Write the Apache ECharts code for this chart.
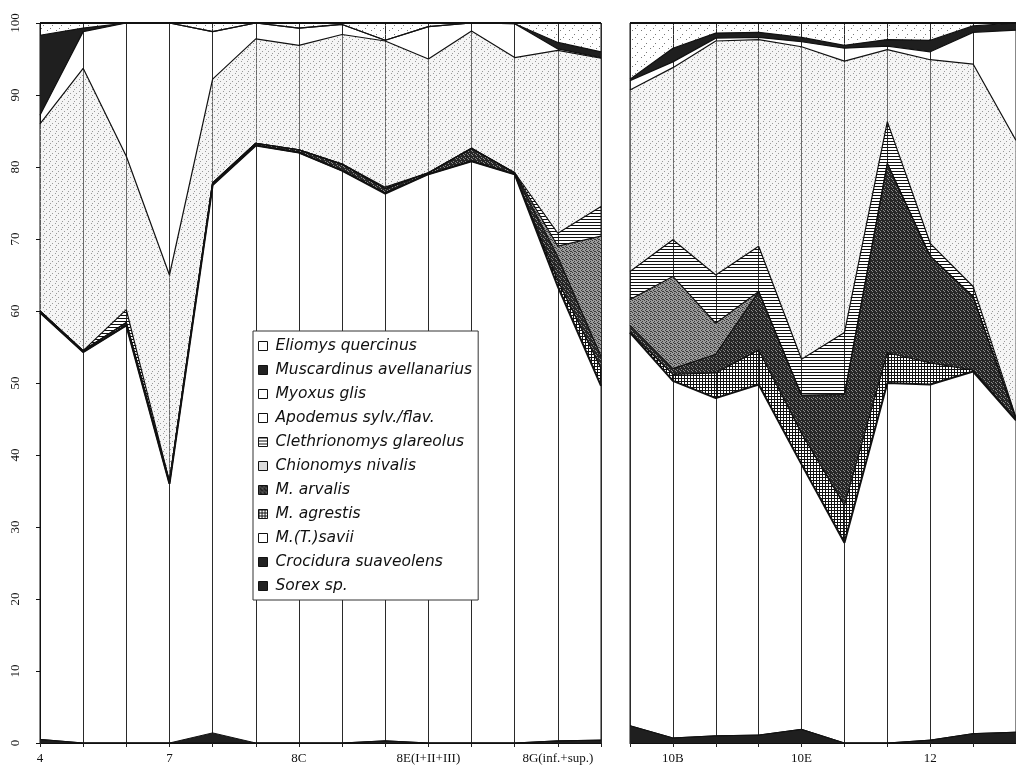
<!DOCTYPE html>
<html><head><meta charset="utf-8">
<script src="https://cdn.jsdelivr.net/npm/echarts@6/dist/echarts.min.js"></script>
<style>html,body{margin:0;padding:0;background:#fff}#c{width:1016px;height:768px}</style>
</head><body><div id="c"></div>
<script>
// ---------- data ----------
const leftCategories = ['4','5','6','7','8A','8B','8C','8D1','8D2','8E(I+II+III)','8F1','8F2','8G(inf.+sup.)','9'];
const rightCategories = ['10A','10B','10C','10D','10E','11A','11B','12','13','14'];
const yTicks = [0,10,20,30,40,50,60,70,80,90,100];

// left panel (percent per species, bottom -> top of stack)
const sorexL        = [0.5, 0, 0, 0, 0, 0, 0, 0, 0.3, 0, 0, 0, 0.3, 0.4];
const crociduraL    = [0, 0, 0, 0, 1.4, 0, 0, 0, 0, 0, 0, 0, 0, 0];
const saviiL        = [59.3, 54.3, 58.0, 36.0, 76.1, 83.0, 82.0, 79.5, 76.0, 79.0, 80.8, 79.0, 63.1, 49.2];
const agrestisL     = [0, 0, 0, 0, 0, 0, 0, 0, 0.1, 0, 0, 0, 0.8, 2.4];
const arvalisL      = [0.2, 0.2, 0.4, 0.3, 0.3, 0.3, 0.4, 0.9, 0.6, 0.2, 1.8, 0.2, 3.3, 1.7];
const chionomysL    = [0, 0, 0, 0, 0, 0, 0, 0, 0, 0, 0, 0, 1.5, 16.7];
const clethrionomysL= [0, 0, 1.8, 0, 0, 0, 0, 0, 0.2, 0, 0, 0, 1.8, 4.1];
const apodemusL     = [26.0, 39.2, 21.3, 28.7, 14.4, 14.5, 14.5, 18.0, 20.3, 15.8, 16.3, 16.0, 25.4, 20.6];
const myoxusL       = [1.2, 5.1, 18.5, 35.0, 6.6, 2.2, 2.4, 1.4, 0.1, 4.5, 1.1, 4.7, 0.2, 0.1];
const muscardinusL  = [11.1, 0.5, 0, 0, 0, 0, 0, 0, 0, 0, 0, 0, 0.9, 0.8];
const eliomysL      = [1.7, 0.7, 0, 0, 1.2, 0, 0.7, 0.2, 2.4, 0.5, 0, 0.1, 2.7, 4.0];

// right panel
const sorexR        = [2.4, 0.7, 1.0, 1.1, 1.9, 0, 0, 0.4, 1.3, 1.5];
const crociduraR    = [0, 0, 0, 0, 0, 0, 0, 0, 0, 0];
const saviiR        = [54.6, 49.6, 46.9, 48.7, 36.8, 27.8, 50.0, 49.4, 50.3, 43.3];
const agrestisR     = [0, 0.9, 3.5, 4.8, 4.3, 5.2, 4.2, 3.0, 0.2, 0.1];
const arvalisR      = [1.0, 0.8, 2.6, 8.1, 5.3, 15.4, 26.3, 14.8, 10.2, 0.1];
const chionomysR    = [3.6, 12.8, 4.3, 0, 0, 0, 0, 0, 0, 0];
const clethrionomysR= [3.9, 5.1, 6.7, 6.3, 5.0, 8.6, 5.8, 1.8, 1.4, 0.2];
const apodemusR     = [25.2, 23.9, 32.5, 28.7, 43.4, 37.7, 10.0, 25.5, 30.9, 38.5];
const myoxusR       = [1.3, 0.8, 0.4, 0.3, 0.7, 1.8, 0.5, 1.1, 4.4, 15.3];
const muscardinusR  = [0.2, 1.9, 0.7, 0.7, 0.6, 0.4, 0.9, 1.6, 0.9, 1.0];
const eliomysR      = [7.8, 3.5, 1.4, 1.3, 2.0, 3.1, 2.3, 2.4, 0.4, 0];

// legend order (top -> bottom) and stacking order (bottom -> top)
const legendNames = ['Eliomys quercinus','Muscardinus avellanarius','Myoxus glis','Apodemus sylv./flav.','Clethrionomys glareolus','Chionomys nivalis','M. arvalis','M. agrestis','M.(T.)savii','Crocidura suaveolens','Sorex sp.'];
const stackOrder = [
  ['Sorex sp.', sorexL, sorexR],
  ['Crocidura suaveolens', crociduraL, crociduraR],
  ['M.(T.)savii', saviiL, saviiR],
  ['M. agrestis', agrestisL, agrestisR],
  ['M. arvalis', arvalisL, arvalisR],
  ['Chionomys nivalis', chionomysL, chionomysR],
  ['Clethrionomys glareolus', clethrionomysL, clethrionomysR],
  ['Apodemus sylv./flav.', apodemusL, apodemusR],
  ['Myoxus glis', myoxusL, myoxusR],
  ['Muscardinus avellanarius', muscardinusL, muscardinusR],
  ['Eliomys quercinus', eliomysL, eliomysR]
];

// ---------- styles ----------
function pat(w, h, bg, fg, pts) {
  const c = document.createElement('canvas'); c.width = w; c.height = h;
  const g = c.getContext('2d');
  if (bg) { g.fillStyle = bg; g.fillRect(0, 0, w, h); }
  g.fillStyle = fg; pts.forEach(p => g.fillRect(p[0], p[1], p[2] || 1, p[3] || 1));
  return { image: c, repeat: 'repeat' };
}
const fills = {
  clear: 'rgba(255,255,255,0)',
  dark: '#1f1f1f',
  hlines: pat(4, 3, null, '#111111', [[0, 0, 4, 1]]),
  grid: pat(3, 3, null, '#111111', [[0, 0, 3, 1], [0, 0, 1, 3]]),
  darkStipple: pat(4, 4, '#262626', '#8a8a8a', [[1, 1], [3, 2], [0, 3]]),
  medStipple: pat(4, 4, '#9a9a9a', '#3a3a3a', [[0, 0], [2, 1], [1, 2], [3, 3], [2, 3]]),
  lightStipple: pat(6, 6, 'rgba(225,225,225,0.35)', '#9a9a9a', [[1, 1], [4, 3], [2, 5]]),
  speckle: pat(9, 9, null, '#7a7a7a', [[2, 3], [7, 7], [5, 1]])
};
const iconSwatch = {
  hlines: pat(4, 3, '#ffffff', '#111111', [[0, 0, 4, 1]]),
  grid: pat(3, 3, '#ffffff', '#111111', [[0, 0, 3, 1], [0, 0, 1, 3]])
};
const speciesStyle = {
  'Eliomys quercinus': { fill: fills.speckle, legend: '#ffffff', lw: 2 },
  'Muscardinus avellanarius': { fill: fills.dark, legend: '#222222', lw: 1.2 },
  'Myoxus glis': { fill: fills.clear, legend: '#ffffff', lw: 1.2 },
  'Apodemus sylv./flav.': { fill: fills.lightStipple, legend: '#ffffff', lw: 1.2 },
  'Clethrionomys glareolus': { fill: fills.hlines, legend: iconSwatch.hlines, lw: 1.2 },
  'Chionomys nivalis': { fill: fills.medStipple, legend: '#dcdcdc', lw: 1.2 },
  'M. arvalis': { fill: fills.darkStipple, legend: fills.darkStipple, lw: 1.2 },
  'M. agrestis': { fill: fills.grid, legend: iconSwatch.grid, lw: 1.2 },
  'M.(T.)savii': { fill: fills.clear, legend: '#ffffff', lw: 2 },
  'Crocidura suaveolens': { fill: fills.dark, legend: '#222222', lw: 1 },
  'Sorex sp.': { fill: fills.dark, legend: '#222222', lw: 1 }
};

const serif = 'Liberation Serif';
function xAxisFor(gridIndex, cats, showLabel) {
  return {
    type: 'category', gridIndex, data: cats, boundaryGap: false,
    axisLine: { show: true, lineStyle: { color: '#111', width: 1.2 } },
    axisTick: { show: true, interval: 0, length: 4, lineStyle: { color: '#222' } },
    splitLine: { show: true, interval: 0, lineStyle: { color: '#2a2a2a', width: 1 } },
    axisLabel: { interval: showLabel, fontFamily: serif, fontSize: 13, color: '#111', margin: 9 }
  };
}

const series = [];
stackOrder.forEach(([name, l, r]) => {
  const st = speciesStyle[name];
  [[0, l], [1, r]].forEach(([gi, arr]) => {
    series.push({
      name, type: 'line', xAxisIndex: gi, yAxisIndex: gi, stack: gi ? 'R' : 'L',
      data: arr, symbol: 'none', silent: true,
      color: '#333333',
      lineStyle: { color: '#111', width: st.lw },
      areaStyle: { color: st.fill, opacity: 1 }
    });
  });
});

const chart = echarts.init(document.getElementById('c'), null, { renderer: 'canvas' });
chart.setOption({
  animation: false,
  backgroundColor: '#ffffff',
  grid: [
    { left: 40, width: 561, top: 23, height: 720, show: true, borderColor: '#111', borderWidth: 1, backgroundColor: 'transparent' },
    { left: 630, width: 390, top: 23, height: 720, show: true, borderColor: '#111', borderWidth: 1, backgroundColor: 'transparent' }
  ],
  xAxis: [
    xAxisFor(0, leftCategories, (i) => i % 3 === 0),
    xAxisFor(1, rightCategories, (i) => i % 3 === 1)
  ],
  yAxis: [
    { type: 'value', gridIndex: 0, min: yTicks[0], max: yTicks[yTicks.length - 1], interval: 10,
      axisLine: { show: true, lineStyle: { color: '#111', width: 1 } },
      axisTick: { show: true, length: 4, lineStyle: { color: '#111' } },
      splitLine: { show: false },
      axisLabel: { rotate: 90, fontFamily: serif, fontSize: 13, color: '#111', margin: 18 } },
    { type: 'value', gridIndex: 1, min: 0, max: 100, interval: 10,
      axisLine: { show: false }, axisTick: { show: false }, splitLine: { show: false }, axisLabel: { show: false } }
  ],
  legend: {
    orient: 'vertical', left: 253, top: 331, z: 10,
    backgroundColor: '#ffffff', borderColor: '#333', borderWidth: 1,
    padding: [7, 6, 6, 5], itemWidth: 9, itemHeight: 9, itemGap: 8, icon: 'rect',
    selectedMode: false,
    textStyle: { fontFamily: 'DejaVu Sans', fontStyle: 'italic', fontSize: 15.5, color: '#111', lineHeight: 16, padding: [0, 0, 0, 3] },
    data: legendNames.map(n => ({ name: n, itemStyle: { color: speciesStyle[n].legend, borderColor: '#111', borderWidth: 1 } }))
  },
  series
});
</script></body></html>
